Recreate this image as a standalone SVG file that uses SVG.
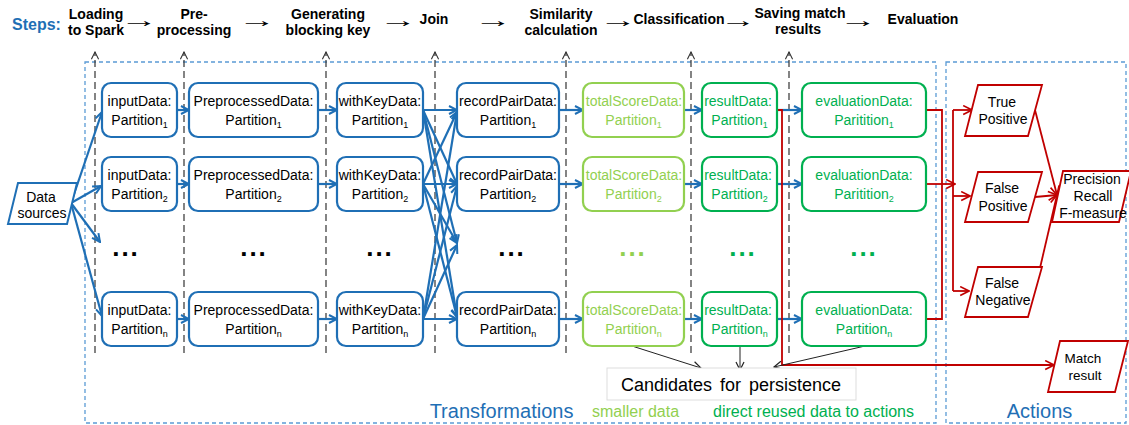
<svg xmlns="http://www.w3.org/2000/svg" width="1129" height="425" viewBox="0 0 1129 425">
<style>
.t{font-family:"Liberation Sans",Arial,sans-serif;font-size:14px;fill:#000}
.st{font-family:"Liberation Sans",Arial,sans-serif;font-size:14px;font-weight:bold;fill:#000;text-anchor:middle}
.ar{font-family:"Liberation Sans",Arial,sans-serif;font-size:20px;fill:#000;text-anchor:middle}
.m{text-anchor:middle}
.bx{fill:#fff;stroke:#1F6FB5;stroke-width:2.2}
.bxl{fill:#fff;stroke:#92D050;stroke-width:2.2}
.bxg{fill:#fff;stroke:#00B050;stroke-width:2.2}
.tl{fill:#92D050}
.tg{fill:#00B050}
.sub{font-size:9px}
.dots{font-family:"Liberation Sans",Arial,sans-serif;font-size:26px;font-weight:bold;text-anchor:middle;letter-spacing:2px}
.cb{fill:none;stroke:#1F6FB5;stroke-width:2.2;marker-end:url(#mB)}
.cr{fill:none;stroke:#C00000;stroke-width:1.8}
.cra{fill:none;stroke:#C00000;stroke-width:1.8;marker-end:url(#mR)}
.ck{fill:none;stroke:#222;stroke-width:1;marker-end:url(#mK)}
.dl{fill:none;stroke:#333;stroke-width:1.2;stroke-dasharray:7 4;marker-end:url(#mD)}
.db{fill:none;stroke:#5B9BD5;stroke-width:1.3;stroke-dasharray:4 3}
.par{fill:#fff;stroke:#C00000;stroke-width:1.8}
.cand{font-family:"Liberation Sans",Arial,sans-serif;font-size:18px;fill:#000;text-anchor:middle;word-spacing:3px}
.mr{font-family:"Liberation Sans",Arial,sans-serif;font-size:13.5px;fill:#000;text-anchor:middle}
</style>
<defs>
<marker id="mB" viewBox="0 0 10 10" refX="9" refY="5" markerWidth="10" markerHeight="10" markerUnits="userSpaceOnUse" orient="auto"><path d="M1,1 L9,5 L1,9" fill="none" stroke="#1F6FB5" stroke-width="2"/></marker>
<marker id="mR" viewBox="0 0 10 10" refX="9" refY="5" markerWidth="11" markerHeight="11" markerUnits="userSpaceOnUse" orient="auto"><path d="M1,1 L9,5 L1,9" fill="none" stroke="#C00000" stroke-width="1.5"/></marker>
<marker id="mK" viewBox="0 0 10 10" refX="9" refY="5" markerWidth="10" markerHeight="10" markerUnits="userSpaceOnUse" orient="auto"><path d="M1,1 L9,5 L1,9" fill="none" stroke="#222" stroke-width="1.2"/></marker>
<marker id="mD" viewBox="0 0 10 10" refX="9" refY="5" markerWidth="9" markerHeight="9" markerUnits="userSpaceOnUse" orient="auto"><path d="M1,1 L9,5 L1,9" fill="none" stroke="#333" stroke-width="1.2"/></marker>
</defs>
<rect width="1129" height="425" fill="#fff"/>

<g id="containers">
<rect class="db" x="85" y="62" width="851" height="361"/>
<rect class="db" x="946" y="62" width="180" height="361"/>
</g>

<g id="steps">
<text x="12" y="30" font-family="Liberation Sans,Arial,sans-serif" font-size="16" font-weight="bold" fill="#1F6FB5">Steps:</text>
<text class="st" x="96" y="19">Loading</text><text class="st" x="96" y="35">to Spark</text>
<text class="st" x="194" y="19">Pre-</text><text class="st" x="194" y="35">processing</text>
<text class="st" x="328" y="19">Generating</text><text class="st" x="328" y="35">blocking key</text>
<text class="st" x="434" y="24">Join</text>
<text class="st" x="561" y="19">Similarity</text><text class="st" x="561" y="35">calculation</text>
<text class="st" x="679" y="24">Classification</text>
<text class="st" x="800" y="18">Saving match</text><text class="st" x="798" y="34">results</text>
<text class="st" x="923" y="24">Evaluation</text>
<text class="ar" transform="translate(139,27) scale(1.9,1)">→</text>
<text class="ar" transform="translate(257,27) scale(1.9,1)">→</text>
<text class="ar" transform="translate(398,27) scale(1.9,1)">→</text>
<text class="ar" transform="translate(493,27) scale(1.9,1)">→</text>
<text class="ar" transform="translate(618,27) scale(1.9,1)">→</text>
<text class="ar" transform="translate(738,27) scale(1.8,1)">→</text>
<text class="ar" transform="translate(858,27) scale(1.9,1)">→</text>
</g>

<g id="step-lines">
<line class="dl" x1="95" y1="353" x2="95" y2="52"/>
<line class="dl" x1="184" y1="353" x2="184" y2="52"/>
<line class="dl" x1="326" y1="353" x2="326" y2="52"/>
<line class="dl" x1="435" y1="353" x2="435" y2="52"/>
<line class="dl" x1="566" y1="353" x2="566" y2="52"/>
<line class="dl" x1="691" y1="353" x2="691" y2="52"/>
<line class="dl" x1="789" y1="353" x2="789" y2="52"/>
</g>

<g id="connectors">
<path class="cb" d="M71,203 L102,112"/>
<path class="cb" d="M71,203 L101,186"/>
<path class="cb" d="M71,203 L100,242"/>
<path class="cb" d="M71,203 L102,316"/>
<path class="cb" d="M177,110 L189,110"/>
<path class="cb" d="M177,184 L189,184"/>
<path class="cb" d="M177,319 L189,319"/>
<path class="cb" d="M318,110 L337,110"/>
<path class="cb" d="M318,184 L337,184"/>
<path class="cb" d="M318,319 L337,319"/>
<path class="cb" d="M423,110 L457,110"/>
<path class="cb" d="M423,110 L457,184"/>
<path class="cb" d="M423,110 L457,243"/>
<path class="cb" d="M423,110 L457,317"/>
<path class="cb" d="M423,184 L457,112"/>
<path class="cb" d="M423,184 L457,184"/>
<path class="cb" d="M423,184 L457,243"/>
<path class="cb" d="M423,184 L457,317"/>
<path class="cb" d="M423,319 L457,112"/>
<path class="cb" d="M423,319 L457,186"/>
<path class="cb" d="M423,319 L457,245"/>
<path class="cb" d="M423,319 L457,319"/>
<path class="cb" d="M559,110 L583,110"/>
<path class="cb" d="M559,184 L583,184"/>
<path class="cb" d="M559,319 L583,319"/>
<path class="cb" d="M684,110 L702,110"/>
<path class="cb" d="M684,184 L702,184"/>
<path class="cb" d="M684,319 L702,319"/>
<path class="cb" d="M777,110 L802,110"/>
<path class="cb" d="M777,184 L802,184"/>
<path class="cb" d="M777,319 L802,319"/>
<path class="cra" d="M777,110 L782,110 L782,365 L1054,365"/>
<path class="cr" d="M926,110 L942,110 L942,319 L926,319"/>
<path class="cra" d="M926,184 L955,184"/>
<path class="cr" d="M953,110 L953,291"/>
<path class="cra" d="M953,110 L972,110"/>
<path class="cra" d="M953,196 L970,196"/>
<path class="cra" d="M953,291 L969,291"/>
<path class="cra" d="M1035,110 L1057,195"/>
<path class="cra" d="M1035,197 L1057,195"/>
<path class="cra" d="M1040,268 L1057,195"/>
<path class="ck" d="M632,346 L701,368"/>
<path class="ck" d="M740,346 L740,370"/>
<path class="ck" d="M865,346 L774,367"/>
</g>

<g id="data-sources">
<polygon points="18,183 77,183 67,224 8,224" fill="#fff" stroke="#1F6FB5" stroke-width="2"/>
<text class="t m" x="41" y="202">Data</text>
<text class="t m" x="42" y="218">sources</text>
</g>

<g id="inputData">
<rect class="bx" x="102" y="83" width="75" height="54" rx="9"/>
<text class="t m" x="139.5" y="106">inputData:</text><text class="t m" x="139.5" y="125">Partition<tspan class="sub" dy="3">1</tspan></text>
<rect class="bx" x="102" y="157" width="75" height="54" rx="9"/>
<text class="t m" x="139.5" y="180">inputData:</text><text class="t m" x="139.5" y="199">Partition<tspan class="sub" dy="3">2</tspan></text>
<text class="dots" x="126" y="256">...</text>
<rect class="bx" x="102" y="292" width="75" height="54" rx="9"/>
<text class="t m" x="139.5" y="315">inputData:</text><text class="t m" x="139.5" y="334">Partition<tspan class="sub" dy="3">n</tspan></text>
</g>

<g id="preprocessedData">
<rect class="bx" x="189" y="83" width="129" height="54" rx="9"/>
<text class="t m" x="253.5" y="106">PreprocessedData:</text><text class="t m" x="253.5" y="125">Partition<tspan class="sub" dy="3">1</tspan></text>
<rect class="bx" x="189" y="157" width="129" height="54" rx="9"/>
<text class="t m" x="253.5" y="180">PreprocessedData:</text><text class="t m" x="253.5" y="199">Partition<tspan class="sub" dy="3">2</tspan></text>
<text class="dots" x="254" y="256">...</text>
<rect class="bx" x="189" y="292" width="129" height="54" rx="9"/>
<text class="t m" x="253.5" y="315">PreprocessedData:</text><text class="t m" x="253.5" y="334">Partition<tspan class="sub" dy="3">n</tspan></text>
</g>

<g id="withKeyData">
<rect class="bx" x="337" y="83" width="86" height="54" rx="9"/>
<text class="t m" x="380" y="106">withKeyData:</text><text class="t m" x="380" y="125">Partition<tspan class="sub" dy="3">1</tspan></text>
<rect class="bx" x="337" y="157" width="86" height="54" rx="9"/>
<text class="t m" x="380" y="180">withKeyData:</text><text class="t m" x="380" y="199">Partition<tspan class="sub" dy="3">2</tspan></text>
<text class="dots" x="380" y="256">...</text>
<rect class="bx" x="337" y="292" width="86" height="54" rx="9"/>
<text class="t m" x="380" y="315">withKeyData:</text><text class="t m" x="380" y="334">Partition<tspan class="sub" dy="3">n</tspan></text>
</g>

<g id="recordPairData">
<rect class="bx" x="457" y="83" width="102" height="54" rx="9"/>
<text class="t m" x="508" y="106">recordPairData:</text><text class="t m" x="508" y="125">Partition<tspan class="sub" dy="3">1</tspan></text>
<rect class="bx" x="457" y="157" width="102" height="54" rx="9"/>
<text class="t m" x="508" y="180">recordPairData:</text><text class="t m" x="508" y="199">Partition<tspan class="sub" dy="3">2</tspan></text>
<text class="dots" x="512" y="256">...</text>
<rect class="bx" x="457" y="292" width="102" height="54" rx="9"/>
<text class="t m" x="508" y="315">recordPairData:</text><text class="t m" x="508" y="334">Partition<tspan class="sub" dy="3">n</tspan></text>
</g>

<g id="totalScoreData">
<rect class="bxl" x="583" y="83" width="101" height="54" rx="9"/>
<text class="t m tl" x="634" y="106">totalScoreData:</text><text class="t m tl" x="633.5" y="125">Partition<tspan class="sub" dy="3">1</tspan></text>
<rect class="bxl" x="583" y="157" width="101" height="54" rx="9"/>
<text class="t m tl" x="634" y="180">totalScoreData:</text><text class="t m tl" x="633.5" y="199">Partition<tspan class="sub" dy="3">2</tspan></text>
<text class="dots tl" x="633" y="256">...</text>
<rect class="bxl" x="583" y="292" width="101" height="54" rx="9"/>
<text class="t m tl" x="634" y="315">totalScoreData:</text><text class="t m tl" x="633.5" y="334">Partition<tspan class="sub" dy="3">n</tspan></text>
</g>

<g id="resultData">
<rect class="bxg" x="702" y="83" width="75" height="54" rx="9"/>
<text class="t m tg" x="738" y="106">resultData:</text><text class="t m tg" x="739.5" y="125">Partition<tspan class="sub" dy="3">1</tspan></text>
<rect class="bxg" x="702" y="157" width="75" height="54" rx="9"/>
<text class="t m tg" x="738" y="180">resultData:</text><text class="t m tg" x="739.5" y="199">Partition<tspan class="sub" dy="3">2</tspan></text>
<text class="dots tg" x="743" y="256">...</text>
<rect class="bxg" x="702" y="292" width="75" height="54" rx="9"/>
<text class="t m tg" x="738" y="315">resultData:</text><text class="t m tg" x="739.5" y="334">Partition<tspan class="sub" dy="3">n</tspan></text>
</g>

<g id="evaluationData">
<rect class="bxg" x="802" y="83" width="124" height="54" rx="9"/>
<text class="t m tg" x="864" y="106">evaluationData:</text><text class="t m tg" x="864" y="125">Paritition<tspan class="sub" dy="3">1</tspan></text>
<rect class="bxg" x="802" y="157" width="124" height="54" rx="9"/>
<text class="t m tg" x="864" y="180">evaluationData:</text><text class="t m tg" x="864" y="199">Paritition<tspan class="sub" dy="3">2</tspan></text>
<text class="dots tg" x="864" y="256">...</text>
<rect class="bxg" x="802" y="292" width="124" height="54" rx="9"/>
<text class="t m tg" x="864" y="315">evaluationData:</text><text class="t m tg" x="864" y="334">Partition<tspan class="sub" dy="3">n</tspan></text>
</g>

<g id="true-positive">
<polygon class="par" points="978,85 1042,85 1028,136 965,136"/>
<text class="t m" x="1002" y="107">True</text><text class="t m" x="1003" y="124">Positive</text>
</g>
<g id="false-positive">
<polygon class="par" points="978,172 1042,172 1028,222 965,222"/>
<text class="t m" x="1002" y="193">False</text><text class="t m" x="1003" y="211">Positive</text>
</g>
<g id="false-negative">
<polygon class="par" points="978,267 1042,267 1028,317 965,317"/>
<text class="t m" x="1002" y="288">False</text><text class="t m" x="1003" y="305">Negative</text>
</g>
<g id="precision">
<polygon class="par" points="1063,171 1131,171 1119,222 1052,222"/>
<text class="t m" x="1092" y="184">Precision</text><text class="t m" x="1093" y="201">Recall</text><text class="t m" x="1093" y="218">F-measure</text>
</g>
<g id="match-result">
<polygon class="par" points="1060,341 1128,341 1115,392 1048,392"/>
<text class="mr" x="1083" y="363">Match</text><text class="mr" x="1085" y="380">result</text>
</g>

<g id="candidates">
<rect x="607" y="368" width="249" height="32" fill="#fff" stroke="#ddd" stroke-width="1"/>
<text class="cand" x="731" y="391">Candidates for persistence</text>
</g>

<g id="legend">
<text x="501.5" y="418" font-family="Liberation Sans,Arial,sans-serif" font-size="20" fill="#1F6FB5" text-anchor="middle">Transformations</text>
<text x="635.5" y="417" font-family="Liberation Sans,Arial,sans-serif" font-size="16" fill="#92D050" text-anchor="middle">smaller data</text>
<text x="813.5" y="417" font-family="Liberation Sans,Arial,sans-serif" font-size="16" fill="#00B050" text-anchor="middle">direct reused data to actions</text>
<text x="1039.5" y="418" font-family="Liberation Sans,Arial,sans-serif" font-size="20" fill="#1F6FB5" text-anchor="middle">Actions</text>
</g>
</svg>
